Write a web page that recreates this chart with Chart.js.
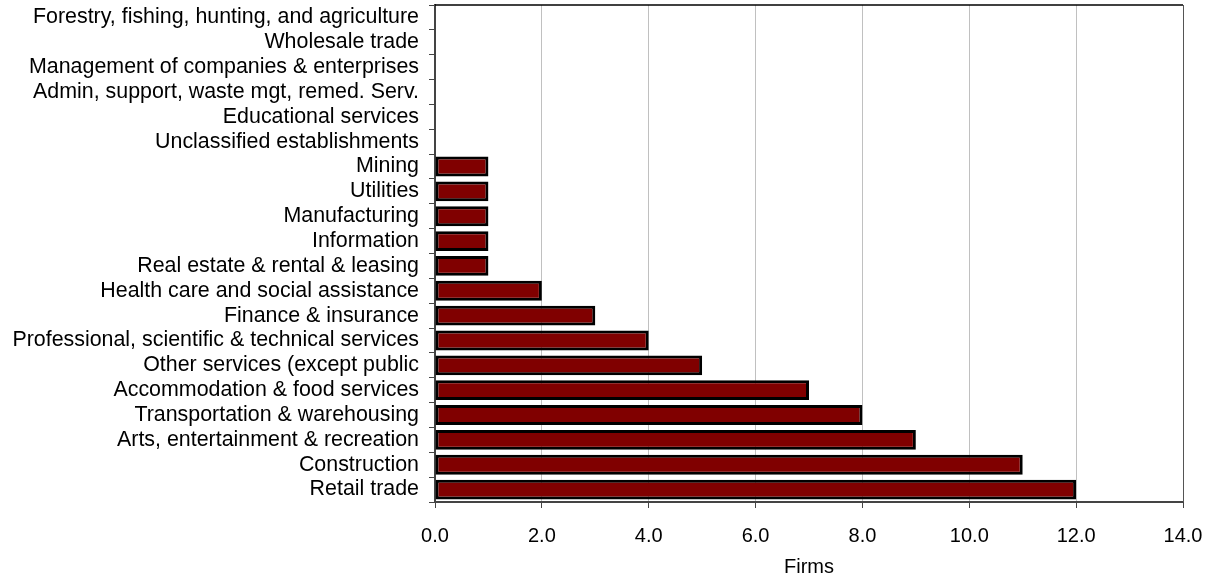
<!DOCTYPE html>
<html>
<head>
<meta charset="utf-8">
<script src="https://cdn.jsdelivr.net/npm/chart.js@4"></script>
<style>
  html, body { margin: 0; padding: 0; background: #fff; }
  canvas { display: block; }
</style>
</head>
<body>
<canvas id="chart" width="1209" height="581"></canvas>
<script>
const categories = [
    'Forestry, fishing, hunting, and agriculture',
    'Wholesale trade',
    'Management of companies & enterprises',
    'Admin, support, waste mgt, remed. Serv.',
    'Educational services',
    'Unclassified establishments',
    'Mining',
    'Utilities',
    'Manufacturing',
    'Information',
    'Real estate & rental & leasing',
    'Health care and social assistance',
    'Finance & insurance',
    'Professional, scientific & technical services',
    'Other services (except public',
    'Accommodation & food services',
    'Transportation & warehousing',
    'Arts, entertainment & recreation',
    'Construction',
    'Retail trade'
];
const firms = [0, 0, 0, 0, 0, 0, 1, 1, 1, 1, 1, 2, 3, 4, 5, 7, 8, 9, 11, 12];
const xTicks = [0, 2, 4, 6, 8, 10, 12, 14];

const FONT = '"Liberation Sans", Arial, sans-serif';

// frame around the plot area (top + right edges)
const frame = {
    id: 'frame',
    afterDraw(chart) {
        const { ctx, chartArea: a } = chart;
        ctx.save();
        ctx.strokeStyle = '#000';
        ctx.lineWidth = 1.5;
        ctx.beginPath();
        ctx.moveTo(a.left, a.top);
        ctx.lineTo(a.right, a.top);
        ctx.stroke();
        ctx.strokeStyle = '#555';
        ctx.lineWidth = 1;
        ctx.beginPath();
        ctx.moveTo(a.right + 0.5, a.top);
        ctx.lineTo(a.right + 0.5, a.bottom);
        ctx.stroke();
        ctx.restore();
    }
};

new Chart(document.getElementById('chart'), {
    type: 'bar',
    data: {
        labels: categories,
        datasets: [{
            label: 'Firms',
            data: firms,
            backgroundColor: '#800000',
            borderColor: '#000',
            borderWidth: 3,
            borderSkipped: false,
            categoryPercentage: 0.8,
            barPercentage: 1.0
        }]
    },
    options: {
        indexAxis: 'y',
        responsive: false,
        devicePixelRatio: 1,
        animation: false,
        layout: { padding: { top: 5, right: 26, left: 0, bottom: 0 } },
        plugins: {
            legend: { display: false },
            tooltip: { enabled: false }
        },
        scales: {
            x: {
                min: 0,
                max: 14,
                afterBuildTicks: (axis) => { axis.ticks = xTicks.map(v => ({ value: v })); },
                afterFit: (axis) => {
                    axis.paddingLeft = 0;
                    axis.paddingRight = 0;
                    axis.height = 79;
                },
                ticks: {
                    color: '#000',
                    font: { family: FONT, size: 20 },
                    padding: 16,
                    maxRotation: 0,
                    callback: (v) => Number(v).toFixed(1)
                },
                grid: {
                    color: '#c0c0c0',
                    lineWidth: 1,
                    tickColor: '#444',
                    tickLength: 6
                },
                border: { color: '#444', width: 2 },
                title: {
                    display: true,
                    text: 'Firms',
                    color: '#000',
                    font: { family: FONT, size: 20 },
                    padding: { top: 4, bottom: 2 }
                }
            },
            y: {
                afterFit: (axis) => {
                    axis.width = 435;
                    axis.paddingTop = 0;
                    axis.paddingBottom = 0;
                },
                ticks: {
                    color: '#000',
                    font: { family: FONT, size: 21.4 },
                    padding: 10,
                    autoSkip: false
                },
                grid: {
                    drawOnChartArea: false,
                    drawTicks: true,
                    tickLength: 6,
                    tickColor: '#444',
                    offset: true
                },
                border: { color: '#444', width: 2 }
            }
        }
    },
    plugins: [frame]
});
</script>
</body>
</html>
